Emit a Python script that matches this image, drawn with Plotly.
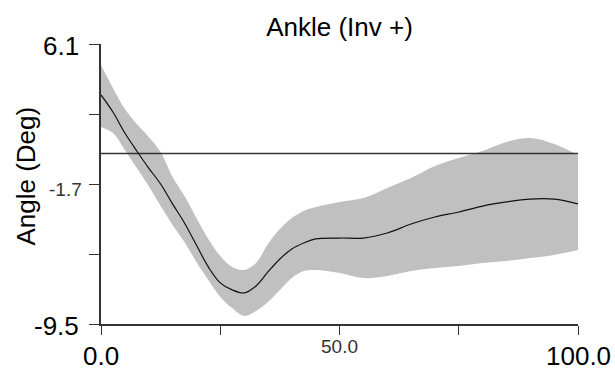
import plotly.graph_objects as go

# ---- data ----
pct = [0, 2.5, 5, 7.5, 10, 12.5, 15, 17.5, 20, 22.5, 25, 27.5, 30, 32.5, 35,
       37.5, 40, 42.5, 45, 50, 55, 60, 65, 70, 75, 80, 85, 90, 95, 100]
mean_angle = [3.26, 2.31, 1.14, 0.14, -0.81, -1.70, -2.81, -3.87, -5.10, -6.32,
              -7.21, -7.60, -7.77, -7.38, -6.60, -5.88, -5.32, -4.99, -4.76, -4.71,
              -4.71, -4.43, -3.93, -3.54, -3.26, -2.93, -2.70, -2.54, -2.54, -2.81]
upper_angle = [4.93, 3.65, 2.48, 1.64, 0.92, 0.08, -1.31, -2.37, -3.59, -4.76,
               -5.71, -6.32, -6.49, -6.10, -5.04, -4.21, -3.59, -3.20, -2.98, -2.70,
               -2.48, -1.92, -1.37, -0.70, -0.25, 0.14, 0.64, 0.86, 0.53, -0.08]
lower_angle = [1.48, 1.14, 0.19, -0.81, -1.81, -2.93, -3.98, -4.93, -6.04, -7.05,
               -7.99, -8.61, -9.05, -8.77, -8.27, -7.60, -6.94, -6.55, -6.49, -6.66,
               -6.94, -6.82, -6.55, -6.38, -6.27, -6.10, -5.99, -5.82, -5.65, -5.38]
ref_x = [0, 100]
ref_y = [0, 0]

x_ticks = [0, 25, 50, 75, 100]
x_labels = ["0.0", "", "50.0", "", "100.0"]
x_label_big = [True, False, False, False, True]
y_ticks = [6.1, 2.2, -1.7, -5.6, -9.5]
y_labels = ["6.1", "", "-1.7", "", "-9.5"]
y_label_big = [True, False, False, False, True]

title_text = "Ankle (Inv +)"
y_title = "Angle (Deg)"

FONT = "Liberation Sans, Arial, sans-serif"
BIG = 26
SMALL = 19

fig = go.Figure()
fig.add_trace(go.Scatter(x=pct, y=lower_angle, mode="lines",
                         line=dict(width=0, color="#c0c0c0", shape="spline"),
                         showlegend=False, hoverinfo="skip"))
fig.add_trace(go.Scatter(x=pct, y=upper_angle, mode="lines", fill="tonexty",
                         fillcolor="#c0c0c0",
                         line=dict(width=0, color="#c0c0c0", shape="spline"),
                         showlegend=False, hoverinfo="skip"))
fig.add_trace(go.Scatter(x=ref_x, y=ref_y, mode="lines",
                         line=dict(width=1.3, color="#333333"), showlegend=False))
fig.add_trace(go.Scatter(x=pct, y=mean_angle, mode="lines",
                         line=dict(width=1.2, color="#111111", shape="spline"),
                         showlegend=False))

annotations = []
for v, t, big in zip(x_ticks, x_labels, x_label_big):
    if not t:
        continue
    annotations.append(dict(x=v, xref="x", y=0, yref="paper", text=t,
                            showarrow=False, xanchor="center", yanchor="middle",
                            yshift=-32 if big else -22,
                            font=dict(family=FONT, size=BIG if big else SMALL,
                                      color="#000000" if big else "#333333")))
for v, t, big in zip(y_ticks, y_labels, y_label_big):
    if not t:
        continue
    annotations.append(dict(x=0, xref="paper", y=v, yref="y", text=t,
                            showarrow=False, xanchor="right", yanchor="middle",
                            xshift=-20 if big else -17,
                            yshift=-2 if big else -5,
                            font=dict(family=FONT, size=BIG if big else SMALL,
                                      color="#000000" if big else "#333333")))
annotations.append(dict(x=-0.157, xref="paper", y=0.527, yref="paper",
                        text=y_title, textangle=-90, showarrow=False,
                        xanchor="center", yanchor="middle",
                        font=dict(family=FONT, size=BIG, color="#000000")))

fig.update_layout(
    width=615, height=372,
    margin=dict(l=101, r=37, t=44, b=48),
    paper_bgcolor="white", plot_bgcolor="white",
    title=dict(text=title_text, x=0.5, xref="paper", y=1 - 27 / 372,
               yref="container", xanchor="center", yanchor="middle",
               font=dict(family=FONT, size=BIG, color="#000000")),
    annotations=annotations,
    xaxis=dict(range=[0, 100], tickvals=x_ticks, showticklabels=False,
               ticks="outside", ticklen=9, tickwidth=1.3, tickcolor="#333333",
               showline=True, linecolor="#333333", linewidth=1.5,
               showgrid=False, zeroline=False, fixedrange=True),
    yaxis=dict(range=[-9.5, 6.1], tickvals=y_ticks, showticklabels=False,
               ticks="outside", ticklen=10, tickwidth=1.3, tickcolor="#333333",
               showline=True, linecolor="#333333", linewidth=1.5,
               showgrid=False, zeroline=False, fixedrange=True),
)

fig.write_html("out.html")
